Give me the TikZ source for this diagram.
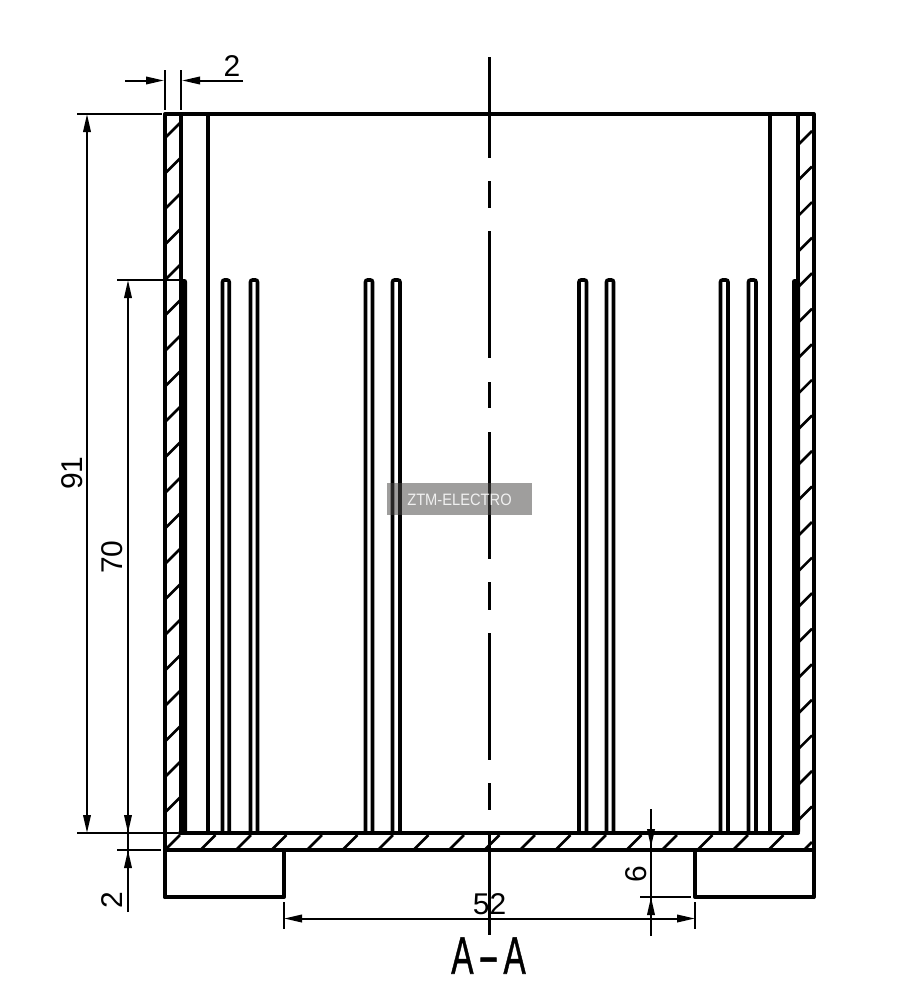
\documentclass[tikz,border=0pt]{standalone}
\usepackage{fontspec}
\usepackage{graphicx}
\setmainfont{Liberation Sans}
\usetikzlibrary{arrows.meta}
\tikzset{
  heavy/.style={line width=4pt,line cap=round,line join=round},
  finline/.style={line width=3.6pt,rounded corners=2pt},
  hatchline/.style={line width=2.6pt},
  axisline/.style={line width=3pt},
  dimline/.style={line width=2pt},
  tipA/.tip={Triangle[length=18pt,width=7.5pt]},
  dimtext/.style={inner sep=0pt,font=\fontsize{30}{30}\selectfont},
}
\begin{document}
\begin{tikzpicture}[x=1pt,y=-1pt]
\useasboundingbox (0,0) rectangle (919,999);
\fill[white] (0,0) rectangle (919,999);
% hatching: side walls
\foreach \n in {0,...,19}{
  \draw[hatchline] (166,137+35.5*\n) -- (180,123+35.5*\n);
  \draw[hatchline] (799,144+35.55*\n) -- (812,131+35.55*\n);
}
% hatching: bottom plate
\foreach \n in {0,...,17}{
  \draw[hatchline] (166+35.5*\n,849) -- (180+35.5*\n,835);
}
\draw[hatchline] (805,849) -- (812,842);
% outer body
\draw[heavy] (165,897) -- (165,114) -- (813.5,114) -- (813.5,897);
\draw[heavy] (165,850) -- (813.5,850);
\draw[heavy] (165,897) -- (284,897) -- (284,850);
\draw[heavy] (813.5,897) -- (695,897) -- (695,850);
\draw[heavy] (181,114) -- (181,280);
\draw[heavy] (798,114) -- (798,280);
\draw[heavy] (208,114) -- (208,833);
\draw[heavy] (770,114) -- (770,833);
\draw[heavy] (180,833) -- (798,833);
% thick side fins
\fill[rounded corners=2.5pt] (179,834) -- (179,279) -- (187,279) -- (187,834) -- cycle;
\fill[rounded corners=2.5pt] (792,834) -- (792,279) -- (800,279) -- (800,834) -- cycle;
% fins
\foreach \a/\b in {222.5/229.2,250.5/257.5,365.5/372.5,392.5/400,579/586.5,606.5/613.5,720.5/728,748.5/756}{
  \draw[finline] (\a,833) -- (\a,280) -- (\b,280) -- (\b,833);
}
% centre line
\draw[axisline] (489.5,57) -- (489.5,158);
\foreach \s/\e in {181/208,231/358,382/408,432/559,582/610,633/760,783/810,834/935}{
  \draw[axisline] (489.5,\s) -- (489.5,\e);
}
% extension lines
\draw[dimline] (165,70) -- (165,110);
\draw[dimline] (181,70) -- (181,110);
\draw[dimline] (77,114) -- (162,114);
\draw[dimline] (77,833) -- (178,833);
\draw[dimline] (117,280) -- (180,280);
\draw[dimline] (117,850) -- (161,850);
\draw[dimline] (284,902) -- (284,929);
\draw[dimline] (695,902) -- (695,929);
\draw[dimline] (640,897) -- (691,897);
% dimension lines
\draw[dimline,-{tipA}] (125,80.5) -- (164,80.5);
\draw[dimline,-{tipA}] (243,80.5) -- (182,80.5);
\draw[dimline,{tipA}-{tipA}] (87,114) -- (87,833);
\draw[dimline,{tipA}-{tipA}] (128,280) -- (128,833);
\draw[dimline] (128,825) -- (128,860);
\draw[dimline,-{tipA}] (128,912) -- (128,850);
\draw[dimline,{tipA}-{tipA}] (284,918.5) -- (695,918.5);
\draw[dimline,-{tipA}] (651,809) -- (651,847);
\draw[dimline] (651,840) -- (651,905);
\draw[dimline,-{tipA}] (651,936) -- (651,897);
% dimension texts
\node[dimtext] (dimwall) at (232,66) {2};
\node[dimtext,rotate=90] (dimheight) at (72.5,473) {91};
\node[dimtext,rotate=90] (dimfin) at (112.5,557) {70};
\node[dimtext,rotate=90] (dimplate) at (112.5,900) {2};
\node[dimtext] (dimwidth) at (489.5,904) {52};
\node[dimtext,rotate=90] (dimfoot) at (636,874.5) {6};
\node[inner sep=0pt,xscale=.63,font=\fontsize{53}{53}\selectfont\addfontfeature{FakeBold=1}] (section) at (488.5,955.5) {A\hspace{7pt}\scalebox{1.9}[1]{-}\hspace{7pt}A};
% watermark
\fill[fill={rgb,255:red,75;green,72;blue,70},opacity=.53] (387,483) rectangle (532,515);
\node[inner sep=0pt,xscale=.89,text=white,text opacity=.85,font=\fontsize{16.5}{16.5}\selectfont] (mark) at (459.5,499.5) {ZTM-ELECTRO};
\end{tikzpicture}
\end{document}
